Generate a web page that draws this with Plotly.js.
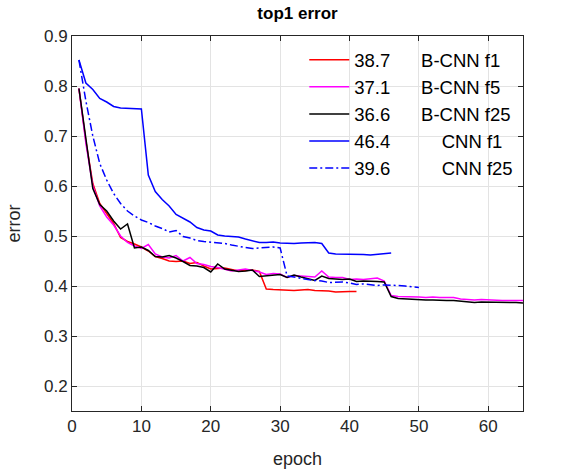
<!DOCTYPE html>
<html>
<head>
<meta charset="utf-8">
<script src="https://cdn.plot.ly/plotly-3.0.1.min.js"></script>
<style>html,body{margin:0;padding:0;background:#fff;}#chart{width:562px;height:469px;}</style>
</head>
<body>
<div id="chart"></div>
<script>
const bcnnF1 = [0.795,0.69,0.605,0.565,0.545,0.525,0.497,0.489,0.484,0.478,
  0.47,0.459,0.455,0.45,0.449,0.45,0.445,0.447,0.44,0.434,
  0.435,0.436,0.433,0.43,0.431,0.432,0.429,0.394,0.393,0.392,
  0.392,0.391,0.392,0.393,0.391,0.391,0.39,0.388,0.389,0.389,0.389];
const bcnnF5 = [0.795,0.685,0.6,0.56,0.538,0.522,0.5,0.487,0.48,0.475,
  0.483,0.464,0.458,0.456,0.461,0.45,0.457,0.445,0.443,0.439,
  0.437,0.433,0.43,0.432,0.434,0.431,0.428,0.423,0.425,0.424,
  0.417,0.421,0.42,0.419,0.418,0.43,0.418,0.417,0.417,0.413,
  0.414,0.413,0.415,0.416,0.41,0.381,0.379,0.379,0.378,0.378,
  0.377,0.378,0.377,0.377,0.377,0.374,0.373,0.372,0.373,0.372,
  0.371,0.371,0.371,0.371,0.371];
const bcnnF25 = [0.795,0.69,0.595,0.563,0.55,0.53,0.514,0.524,0.476,0.478,
  0.471,0.459,0.458,0.461,0.456,0.449,0.441,0.44,0.437,0.428,
  0.444,0.434,0.432,0.429,0.43,0.432,0.419,0.42,0.421,0.423,
  0.417,0.422,0.418,0.414,0.411,0.42,0.415,0.414,0.413,0.414,
  0.409,0.41,0.41,0.409,0.408,0.379,0.375,0.374,0.374,0.373,
  0.372,0.372,0.371,0.371,0.371,0.37,0.368,0.367,0.368,0.368,
  0.367,0.367,0.367,0.367,0.366];
const cnnF1 = [0.852,0.806,0.793,0.775,0.768,0.759,0.756,0.755,0.754,0.754,
  0.622,0.589,0.573,0.56,0.543,0.535,0.528,0.517,0.512,0.51,
  0.502,0.5,0.499,0.498,0.494,0.491,0.487,0.487,0.488,0.486,
  0.485,0.485,0.486,0.487,0.487,0.485,0.466,0.464,0.464,0.464,
  0.464,0.463,0.462,0.463,0.465,0.466];
const cnnF25 = [0.852,0.77,0.70,0.645,0.612,0.585,0.565,0.55,0.54,0.532,
  0.527,0.52,0.515,0.508,0.511,0.499,0.496,0.491,0.489,0.488,
  0.487,0.485,0.482,0.479,0.477,0.475,0.476,0.477,0.478,0.476,
  0.42,0.418,0.415,0.413,0.411,0.41,0.407,0.407,0.408,0.406,
  0.403,0.404,0.402,0.401,0.402,0.402,0.401,0.4,0.399,0.397];

const finalErr = ['38.7','37.1','36.6','46.4','39.6'];
const names = ['B-CNN f1','B-CNN f5','B-CNN f25','CNN f1','CNN f25'];
const colors = ['#ff0000','#ff00ff','#000000','#0000ff','#0000ff'];
const dashes = ['solid','solid','solid','solid','8px,3px,2px,3px'];
const series = [bcnnF1, bcnnF5, bcnnF25, cnnF1, cnnF25];

const NB = '\u00a0';
function label(i){
  const pad = names[i].startsWith('B-') ? NB.repeat(6) : NB.repeat(10);
  return finalErr[i] + pad + names[i];
}

const traces = series.map((ys, i) => ({
  type: 'scatter',
  mode: 'lines',
  x: ys.map((_, k) => k + 1),
  y: ys,
  name: label(i),
  line: {color: colors[i], width: 1.5, dash: dashes[i]}
}));

const axisCommon = {
  showline: true, linecolor: '#262626', linewidth: 1, mirror: 'ticks',
  ticks: 'inside', ticklen: 5, tickcolor: '#262626', tickwidth: 1,
  showgrid: true, gridcolor: '#e3e3e3', gridwidth: 1, zeroline: false,
  tickfont: {family: 'Liberation Sans, Arial, sans-serif', size: 17, color: '#262626'}
};

const layout = {
  width: 562, height: 469,
  margin: {l: 72, r: 39, t: 36, b: 58},
  paper_bgcolor: '#ffffff', plot_bgcolor: '#ffffff',
  font: {family: 'Liberation Sans, Arial, sans-serif', color: '#262626'},
  title: {text: '<b>top1 error</b>', font: {size: 17, color: '#000000'},
          x: 0.5, xref: 'paper', xanchor: 'center', y: 0.972, yref: 'container', yanchor: 'middle'},
  xaxis: Object.assign({}, axisCommon, {range: [0, 65], dtick: 10, tick0: 0,
          title: {text: 'epoch', font: {size: 18, color: '#262626'}, standoff: 16}}),
  yaxis: Object.assign({}, axisCommon, {range: [0.15, 0.9], dtick: 0.1, tick0: 0.2, tickformat: '.1f',
          title: {text: 'error', font: {size: 18, color: '#262626'}, standoff: 18}}),
  showlegend: true,
  legend: {x: 0.515, y: 0.986, xanchor: 'left', yanchor: 'top',
           bgcolor: 'rgba(0,0,0,0)', borderwidth: 0,
           font: {size: 18.5, color: '#000000'}, itemwidth: 40}
};

Plotly.newPlot('chart', traces, layout, {staticPlot: true, displayModeBar: false});
</script>
</body>
</html>
